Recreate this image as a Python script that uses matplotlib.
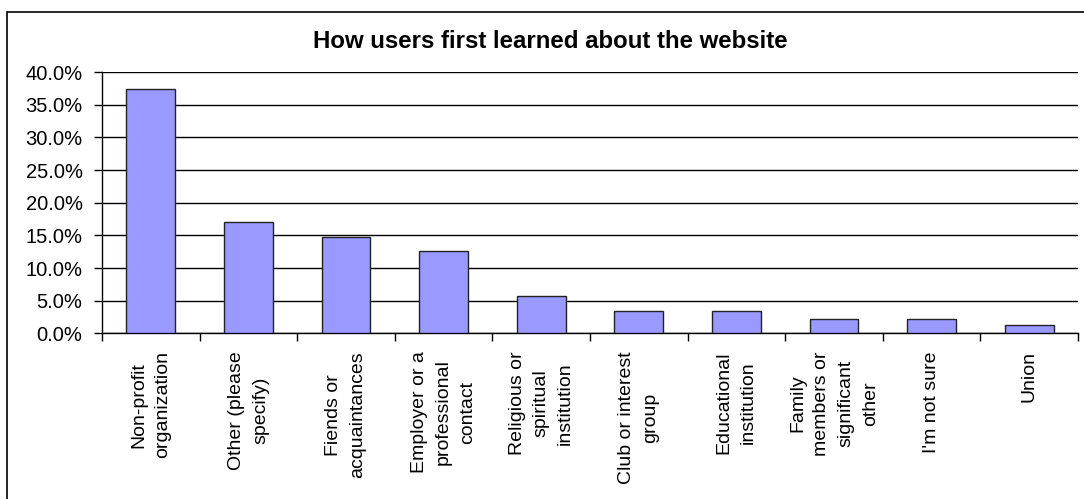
import numpy as np
import matplotlib.pyplot as plt
from matplotlib.patches import Rectangle
from matplotlib.ticker import FixedLocator, PercentFormatter

plt.rcParams['font.family'] = ['Liberation Sans', 'DejaVu Sans']

# survey answers (share of respondents, %)
categories = [
    "Non-profit\norganization",
    "Other (please\nspecify)",
    "Fiends or\nacquaintances",
    "Employer or a\nprofessional\ncontact",
    "Religious or\nspiritual\ninstitution",
    "Club or interest\ngroup",
    "Educational\ninstitution",
    "Family\nmembers or\nsignificant\nother",
    "I'm not sure",
    "Union",
]
shares = [37.4, 17.0, 14.7, 12.6, 5.7, 3.4, 3.4, 2.2, 2.2, 1.2]
yticks = [0, 5, 10, 15, 20, 25, 30, 35, 40]

fig = plt.figure(figsize=(10.84, 4.99), dpi=100)
ax = fig.add_axes([0.0941, 0.332, 0.9004, 0.5237])

x = np.arange(len(categories))
ax.bar(x, shares, width=0.5, color="#9999FF", edgecolor="#222222",
       linewidth=1.0, zorder=3)

ax.set_xlim(-0.5, len(categories) - 0.5)
ax.set_ylim(0, 40)
ax.set_yticks(yticks)
ax.yaxis.set_major_formatter(PercentFormatter(decimals=1))
ax.grid(axis="y", color="black", linewidth=1.0, zorder=0)

# labels at bar centres, tick marks between categories
ax.set_xticks(x)
ax.set_xticklabels(categories, rotation=90, ha="center", va="top",
                   multialignment="center", fontsize=14, linespacing=1.55)
ax.xaxis.set_minor_locator(FixedLocator(np.arange(len(categories) + 1) - 0.5))
ax.tick_params(axis="x", which="major", length=0, pad=13)
ax.tick_params(axis="x", which="minor", length=6, width=1, direction="out")
ax.tick_params(axis="y", length=6, width=1, direction="out", labelsize=14.5, pad=8)

for side in ("top", "right"):
    ax.spines[side].set_visible(False)
for side in ("left", "bottom"):
    ax.spines[side].set_linewidth(1.0)

fig.text(550 / 1084, 1 - 41 / 499, "How users first learned about the website",
         ha="center", va="center", fontsize=17.3, fontweight="bold")

# chart frame
fig.patches.append(Rectangle((7 / 1084, -0.1), 2.0, (499 - 12) / 499 + 0.1,
                             transform=fig.transFigure, fill=False,
                             edgecolor="black", linewidth=1.2))

fig.savefig("out.png", dpi=100)
